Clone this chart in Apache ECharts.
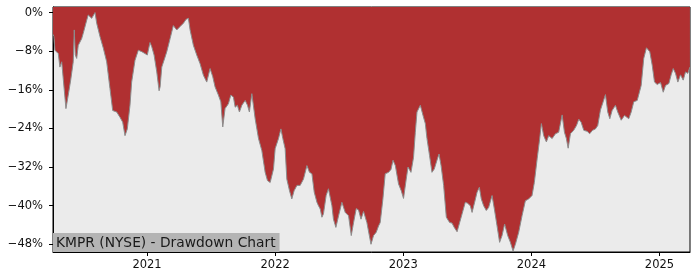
<!DOCTYPE html>
<html><head><meta charset="utf-8">
<script src="https://cdn.jsdelivr.net/npm/echarts@6/dist/echarts.min.js"></script>
<style>html,body{margin:0;padding:0;background:#fff}#c{width:700px;height:280px}</style>
</head><body><div id="c"></div>
<script>
// Time in decimal years
const dates = [
2020.266,2020.273,2020.281,2020.295,2020.307,2020.320,2020.334,2020.346,2020.367,2020.385,
2020.404,2020.424,2020.432,2020.440,2020.451,2020.463,2020.490,2020.502,2020.529,2020.541,
2020.555,2020.568,2020.580,2020.594,2020.607,2020.633,2020.659,2020.685,2020.711,2020.732,
2020.763,2020.789,2020.810,2020.828,2020.846,2020.867,2020.880,2020.906,2020.932,2020.959,
2020.984,2021.002,2021.023,2021.037,2021.055,2021.076,2021.094,2021.102,2021.115,2021.125,
2021.141,2021.154,2021.180,2021.205,2021.232,2021.258,2021.284,2021.305,2021.323,2021.336,
2021.362,2021.388,2021.414,2021.440,2021.466,2021.492,2021.513,2021.531,2021.557,2021.576,
2021.591,2021.609,2021.635,2021.654,2021.674,2021.688,2021.705,2021.721,2021.740,2021.766,
2021.784,2021.799,2021.818,2021.844,2021.870,2021.896,2021.922,2021.940,2021.961,2021.987,
2022.000,2022.026,2022.045,2022.060,2022.078,2022.091,2022.112,2022.130,2022.148,2022.170,
2022.195,2022.221,2022.248,2022.268,2022.287,2022.305,2022.326,2022.338,2022.352,2022.365,
2022.377,2022.398,2022.416,2022.430,2022.443,2022.455,2022.474,2022.495,2022.521,2022.547,
2022.573,2022.594,2022.612,2022.633,2022.651,2022.670,2022.690,2022.716,2022.748,2022.768,
2022.789,2022.807,2022.820,2022.841,2022.859,2022.885,2022.904,2022.920,2022.938,2022.963,
2022.984,2023.002,2023.023,2023.037,2023.060,2023.080,2023.094,2023.107,2023.133,2023.154,
2023.172,2023.185,2023.205,2023.224,2023.242,2023.263,2023.279,2023.295,2023.315,2023.336,
2023.362,2023.380,2023.398,2023.420,2023.440,2023.459,2023.484,2023.502,2023.523,2023.537,
2023.557,2023.576,2023.594,2023.609,2023.627,2023.648,2023.666,2023.680,2023.693,2023.711,
2023.732,2023.752,2023.771,2023.791,2023.815,2023.836,2023.857,2023.875,2023.901,2023.927,
2023.953,2023.979,2024.005,2024.023,2024.045,2024.065,2024.078,2024.096,2024.117,2024.135,
2024.162,2024.188,2024.213,2024.240,2024.258,2024.273,2024.287,2024.305,2024.330,2024.352,
2024.370,2024.388,2024.409,2024.435,2024.455,2024.477,2024.500,2024.518,2024.539,2024.560,
2024.578,2024.596,2024.612,2024.630,2024.656,2024.674,2024.701,2024.727,2024.760,2024.779,
2024.799,2024.826,2024.841,2024.857,2024.877,2024.898,2024.924,2024.943,2024.961,2024.982,
2025.008,2025.029,2025.047,2025.073,2025.091,2025.107,2025.125,2025.143,2025.164,2025.185,
2025.203,2025.221,2025.237
];
// Drawdown in percent
const drawdown = [
-4.5,-5.0,-7.8,-7.4,-8.5,-11.3,-10.2,-13.7,-19.9,-17.1,
-14.0,-10.2,-3.6,-8.8,-9.5,-6.8,-5.4,-4.3,-1.6,-0.5,
-0.2,-1.2,-1.0,0,-2.2,-5.0,-7.4,-10.2,-15.8,-20.3,
-20.6,-21.7,-22.7,-25.5,-24.1,-19.2,-14.4,-9.9,-7.8,-8.1,
-8.5,-8.8,-6.2,-7.1,-8.8,-12.3,-16.2,-15.4,-11.3,-10.9,
-9.2,-8.1,-5.4,-2.7,-3.6,-2.9,-2.2,-1.4,-1.2,-3.6,
-6.8,-8.8,-10.6,-13.0,-14.4,-11.6,-13.3,-15.4,-17.1,-18.5,
-23.7,-19.9,-18.9,-17.1,-17.5,-19.6,-19.2,-20.6,-19.2,-18.2,
-19.2,-20.6,-16.8,-22.0,-26.1,-28.6,-33.1,-34.8,-35.2,-32.4,
-28.2,-26.1,-24.1,-26.1,-28.2,-34.5,-36.9,-38.6,-36.9,-35.8,
-35.8,-34.5,-31.7,-33.1,-33.4,-37.2,-39.3,-40.0,-40.7,-42.4,
-41.7,-37.9,-36.5,-36.7,-40.0,-42.8,-44.5,-42.1,-39.3,-41.4,
-42.1,-46.2,-43.5,-40.6,-40.9,-42.8,-41.2,-43.5,-48.0,-46.2,
-45.5,-44.2,-43.5,-38.6,-33.4,-33.1,-32.5,-30.6,-31.7,-35.5,
-36.9,-38.5,-34.5,-32.0,-33.1,-30.0,-24.8,-20.6,-19.2,-21.3,
-23.0,-26.1,-29.6,-33.1,-32.4,-30.6,-29.3,-31.7,-35.8,-42.4,
-43.5,-43.6,-44.5,-45.4,-43.5,-41.7,-39.3,-39.5,-40.0,-41.4,
-39.3,-37.2,-36.2,-38.6,-40.0,-41.0,-40.4,-40.0,-37.9,-40.7,
-44.2,-47.6,-46.2,-43.8,-46.2,-47.6,-49.4,-48.0,-45.5,-42.1,
-39.0,-38.6,-37.9,-35.2,-30.3,-26.1,-23.0,-25.5,-26.8,-25.5,
-26.1,-25.1,-24.8,-21.2,-24.8,-26.1,-28.1,-25.1,-24.4,-23.4,
-22.1,-22.7,-24.4,-24.6,-25.1,-24.4,-24.1,-23.4,-20.2,-18.5,
-17.0,-20.6,-22.0,-20.3,-19.2,-20.6,-22.3,-21.3,-22.0,-20.6,
-18.5,-18.2,-18.4,-15.1,-9.5,-7.3,-8.1,-10.9,-14.4,-14.9,
-14.5,-16.5,-15.1,-14.7,-12.9,-11.6,-12.6,-14.4,-12.9,-14.0,
-12.3,-12.6,-11.3
];
const yearTicks = [2021, 2022, 2023, 2024, 2025];
const pctTicks = [0, -8, -16, -24, -32, -40, -48];
const chartTitle = 'KMPR (NYSE) - Drawdown Chart';

const chart = echarts.init(document.getElementById('c'), null, {renderer: 'canvas'});
const font = 'DejaVu Sans';
chart.setOption({
  animation: false,
  backgroundColor: '#ffffff',
  grid: {left: 53, right: 10, top: 7, bottom: 28, show: true,
         backgroundColor: '#ebebeb', borderColor: '#000', borderWidth: 1},
  title: {
    text: chartTitle, left: 53, top: 233,
    backgroundColor: '#b4b4b4', padding: [2, 4, 1, 3],
    textStyle: {fontFamily: font, fontSize: 13.8, fontWeight: 'normal', color: '#1a1a1a', lineHeight: 16}
  },
  xAxis: {
    type: 'value', min: 2020.266, max: 2025.238,
    splitLine: {show: false},
    axisLine: {show: true, onZero: false, lineStyle: {color: '#000', width: 1}},
    axisTick: {show: true, length: 4, customValues: yearTicks, lineStyle: {color: '#000'}},
    axisLabel: {customValues: yearTicks, margin: 7, color: '#111', fontFamily: font, fontSize: 11.5,
                formatter: v => String(Math.round(v))}
  },
  yAxis: {
    type: 'value', min: -49.6, max: 1.15,
    splitLine: {show: false},
    axisLine: {show: true, onZero: false, lineStyle: {color: '#000', width: 1}},
    axisTick: {show: true, length: 4, customValues: pctTicks, lineStyle: {color: '#000'}},
    axisLabel: {customValues: pctTicks, margin: 10, color: '#111', fontFamily: font, fontSize: 11.5,
                formatter: v => (Math.round(v) === 0 ? '0%' : '\u2212' + Math.abs(Math.round(v)) + '%')}
  },
  series: [{
    type: 'line', showSymbol: false, symbol: 'none',
    data: dates.map((d, i) => [d, drawdown[i]]),
    lineStyle: {color: '#8c8c8c', width: 1},
    areaStyle: {color: '#b03031', opacity: 1, origin: 'end'}
  }]
});
</script></body></html>
